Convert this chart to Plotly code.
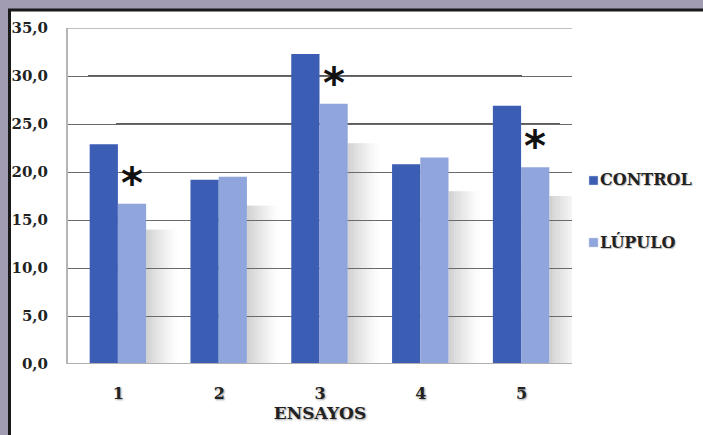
import plotly.graph_objects as go

# Data
ensayos = [1, 2, 3, 4, 5]
tick_labels = ["1", "2", "3", "4", "5"]
control = [22.9, 19.2, 32.3, 20.8, 26.9]
lupulo = [16.7, 19.5, 27.1, 21.5, 20.5]
sombra = [14.0, 16.5, 23.0, 18.0, 17.5]          # soft shadow behind each pair
significativo = [True, False, True, False, True]  # marked with *

series_names = ["CONTROL", "LÚPULO"]

y_ticks = [0, 5, 10, 15, 20, 25, 30, 35]
y_tick_labels = ["0,0", "5,0", "10,0", "15,0", "20,0", "25,0", "30,0", "35,0"]

C_CONTROL = "#3b5db4"
C_LUPULO = "#8fa5db"
FRAME_BG = "#a19cb1"
SERIF = "DejaVu Serif"

# plot area geometry in pixels (for paper-coordinate decorations)
W, H = 703, 435
ML, MR, MT, MB = 68, 131, 28, 71
PW, PH = W - ML - MR, H - MT - MB


def px_x(p):
    return (p - ML) / PW


def px_y(p):
    return (H - MB - p) / PH


fig = go.Figure()

# gradient-like shadow built from narrow translucent slices
n_slices = 12
for k in range(n_slices):
    alpha = 0.30 * (1 - k / n_slices) ** 1.3
    fig.add_trace(go.Bar(
        x=ensayos, y=sombra, width=0.027, offset=0.275 + k * 0.026,
        marker=dict(color=f"rgba(110,110,110,{alpha:.3f})", line=dict(width=0)),
        showlegend=False, hoverinfo="skip",
    ))

fig.add_trace(go.Bar(
    x=ensayos, y=control, name=series_names[0], width=0.28, offset=-0.285,
    marker=dict(color=C_CONTROL, line=dict(width=0)), showlegend=False,
))
fig.add_trace(go.Bar(
    x=ensayos, y=lupulo, name=series_names[1], width=0.28, offset=-0.005,
    marker=dict(color=C_LUPULO, line=dict(width=0)), showlegend=False,
))

# significance asterisks above LÚPULO bars
for xi, v, s in zip(ensayos, lupulo, significativo):
    if s:
        fig.add_annotation(
            x=xi + 0.135, y=v, yshift=-6, text="<b>*</b>", showarrow=False,
            yanchor="bottom", font=dict(family="DejaVu Sans", size=42, color="#111"),
        )

shapes = [
    # grey outer frame strips along left and top edges
    dict(type="rect", xref="paper", yref="paper", layer="below",
         x0=px_x(-5), x1=px_x(9), y0=px_y(H + 5), y1=px_y(-5),
         fillcolor=FRAME_BG, line=dict(width=0)),
    dict(type="rect", xref="paper", yref="paper", layer="below",
         x0=px_x(-5), x1=px_x(W + 5), y0=px_y(9), y1=px_y(-5),
         fillcolor=FRAME_BG, line=dict(width=0)),
    # keep the right edge of the white panel clean
    dict(type="rect", xref="paper", yref="paper", layer="above",
         x0=px_x(695), x1=px_x(W + 10), y0=px_y(H + 10), y1=px_y(11.5),
         fillcolor="white", line=dict(width=0)),
    # dark left/top border of the white panel
    dict(type="line", xref="paper", yref="paper",
         x0=px_x(9.5), x1=px_x(9.5), y0=px_y(9), y1=px_y(H + 5),
         line=dict(color="#1a1a1a", width=3)),
    dict(type="line", xref="paper", yref="paper",
         x0=px_x(8), x1=px_x(W + 5), y0=px_y(10), y1=px_y(10),
         line=dict(color="#1a1a1a", width=3)),
    # heavier back-wall lines at 30 and 25
    dict(type="line", xref="paper", yref="y", layer="below",
         x0=px_x(88), x1=px_x(522), y0=30, y1=30,
         line=dict(color="#5a5a60", width=2)),
    dict(type="line", xref="paper", yref="y", layer="below",
         x0=px_x(116), x1=px_x(560), y0=25, y1=25,
         line=dict(color="#5a5a60", width=2)),
    # bottom axis line and lighter top gridline
    dict(type="line", xref="paper", yref="y", x0=0, x1=1, y0=0, y1=0,
         line=dict(color="#b0b0b0", width=2)),
    dict(type="line", xref="paper", yref="y", x0=0, x1=1, y0=35, y1=35,
         line=dict(color="#c0c0c0", width=2)),
]

# legend: swatch + label for each series
legend_rows = [(180, C_CONTROL), (242, C_LUPULO)]
for name, (py, col) in zip(series_names, legend_rows):
    shapes.append(dict(type="rect", xref="paper", yref="paper",
                       x0=px_x(589), x1=px_x(598), y0=px_y(py + 5), y1=px_y(py - 4),
                       fillcolor=col, line=dict(color="#c8d0e8", width=0.5)))
    fig.add_annotation(
        xref="paper", yref="paper", x=px_x(598), y=px_y(py), xanchor="left",
        yanchor="middle", showarrow=False, text=f"<b>{name}</b>",
        font=dict(family=SERIF, size=16, color="#222", shadow="1px 1px 1px #bbb"),
    )

fig.update_layout(
    width=W, height=H,
    margin=dict(l=ML, r=MR, t=MT, b=MB, autoexpand=False),
    paper_bgcolor="white",
    plot_bgcolor="white",
    barmode="overlay",
    shapes=shapes,
    showlegend=False,
    xaxis=dict(
        range=[0.5, 5.5], tickvals=ensayos, ticktext=[f"<b>{t}</b>" for t in tick_labels],
        showgrid=False, zeroline=False, showline=False, ticks="",
        tickfont=dict(family=SERIF, size=16, color="#222", shadow="1px 1px 2px #999"),
        title=dict(text="<b>ENSAYOS</b>", standoff=4,
                   font=dict(family=SERIF, size=17, color="#222", shadow="1px 1px 2px #999")),
        ticklabelstandoff=18,
    ),
    yaxis=dict(
        range=[0, 35], tickvals=y_ticks, ticktext=[f"<b>{t}</b>" for t in y_tick_labels],
        showgrid=True, gridcolor="#6a6a6a", gridwidth=1,
        zeroline=False, showline=True, linecolor="#b5b5b5", linewidth=2,
        ticks="", tickfont=dict(family=SERIF, size=15, color="#222"),
        ticklabelstandoff=15,
    ),
)

# keep the page free of scrollbars around the fixed-size figure
page_js = (
    "var s=document.createElement('style');"
    "s.textContent='html,body{margin:0;padding:0;overflow:hidden;scrollbar-width:none;}"
    "::-webkit-scrollbar{display:none;width:0;height:0;}';"
    "document.head.appendChild(s);"
)
fig.write_html("out.html", post_script=page_js, config={"displayModeBar": False})
